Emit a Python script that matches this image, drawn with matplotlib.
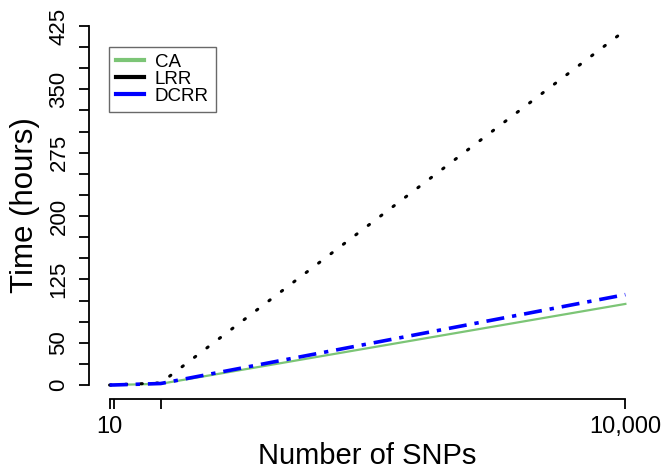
import numpy as np
import matplotlib
matplotlib.use('Agg')
import matplotlib.pyplot as plt

plt.rcParams['font.family']=['Liberation Sans','DejaVu Sans']

#data
n_snps=[10,100,1000,10000]
time_ca=[0.0,0.1,1.5,96]
time_lrr=[0.0,0.3,2.5,420]
time_dcrr=[0.0,0.1,1.8,107]

y_ticks=list(range(0,426,25))
y_tick_labels=['0','','50','','','125','','','200','','','275','','','350','','','425']
x_ticks=[10,100,1000,10000]
x_tick_labels=['10','','','10,000']

fig=plt.figure(figsize=(6.62,4.73),dpi=100)
ax=fig.add_axes([89/662,(473-399.4)/473,(646-89)/662,(399.4-11.6)/473])

ax.plot(n_snps,time_ca,color='#7cc576',linewidth=1.6,linestyle='-')
ax.plot(n_snps,time_lrr,color='black',linewidth=2.2,linestyle=(0,(0.5,4.6)),
        dash_capstyle='round')
ax.plot(n_snps,time_dcrr,color='#0000ff',linewidth=2.6,linestyle=(0,(5,2.2,1.2,2.2)))

#R-style axis limits (4% padding)
x_pad=0.04*(max(n_snps)-min(n_snps))
ax.set_xlim(min(n_snps)-x_pad,max(n_snps)+x_pad)
ax.set_ylim(0-0.04*425,425+0.04*425)

for side in ['top','right']:
    ax.spines[side].set_visible(False)
ax.spines['left'].set_bounds(0,425)
ax.spines['bottom'].set_bounds(10,10000)
ax.spines['left'].set_linewidth(1.3)
ax.spines['bottom'].set_linewidth(1.3)

ax.set_yticks(y_ticks)
ax.set_yticklabels(y_tick_labels,rotation=90,va='center',fontsize=16)
ax.set_xticks(x_ticks)
ax.set_xticklabels(x_tick_labels,fontsize=17)
ax.tick_params(axis='both',length=7,width=1.3,direction='out')
ax.tick_params(axis='y',pad=7)
ax.tick_params(axis='x',pad=5)

ax.set_xlabel('Number of SNPs',fontsize=21,labelpad=3)
ax.set_ylabel('Time (hours)',fontsize=22.5,labelpad=6)

#legend with solid sample lines
handles=[plt.Line2D([],[],color='#7cc576',linewidth=3),
         plt.Line2D([],[],color='black',linewidth=3),
         plt.Line2D([],[],color='#0000ff',linewidth=3)]
leg=ax.legend(handles,['CA','LRR','DCRR'],loc='upper left',
              bbox_to_anchor=((109-89)/557,1-(47-11.6)/387.8),
              fontsize=13.5,frameon=True,fancybox=False,labelspacing=0.0,
              handlelength=1.5,handletextpad=0.6,borderpad=0.35,borderaxespad=0)
leg.get_frame().set_edgecolor('#444444')
leg.get_frame().set_linewidth(1.0)

plt.savefig('out.png',dpi=100)
plt.close()
